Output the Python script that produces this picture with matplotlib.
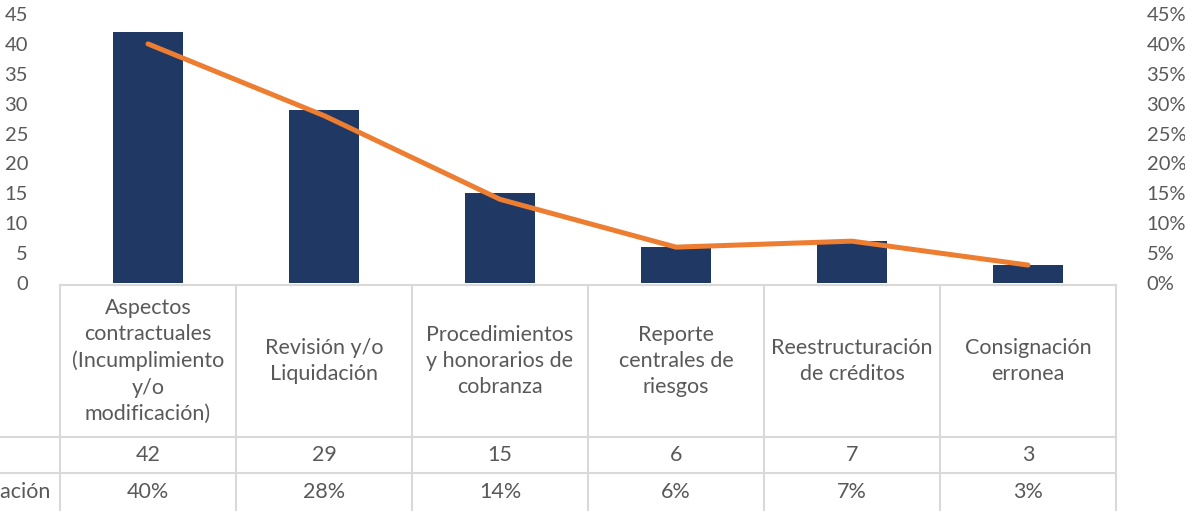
import matplotlib.pyplot as plt
from matplotlib.lines import Line2D
from matplotlib.ticker import PercentFormatter

categories = ["Aspectos\ncontractuales\n(Incumplimiento\ny/o\nmodificación)",
              "Revisión y/o\nLiquidación",
              "Procedimientos\ny honorarios de\ncobranza",
              "Reporte\ncentrales de\nriesgos",
              "Reestructuración\nde créditos",
              "Consignación\nerronea"]
cantidad = [42, 29, 15, 6, 7, 3]
participacion = [0.40, 0.28, 0.14, 0.06, 0.07, 0.03]
row_labels = ["", "Participación"]

plt.rcParams['font.family'] = ['Lato', 'DejaVu Sans']
txt = "#595959"
grid = "#d9d9d9"
W, H = 1185, 511
fs_tick = 14.5
fs_tab = 15.5

fig = plt.figure(figsize=(11.85, 5.11), dpi=100)
fx = lambda px: px / W
fy = lambda py: 1 - py / H

left, right, top, bottom = 60, 1116, 14, 283
ax = fig.add_axes([fx(left), fy(bottom), fx(right) - fx(left), fy(top) - fy(bottom)])
x = range(len(cantidad))
ax.bar(x, cantidad, width=0.4, color="#1f3864", zorder=2)
ax.set_xlim(-0.5, len(cantidad) - 0.5)
ax.set_ylim(0, 45)
ax.set_yticks(range(0, 46, 5))
ax.set_xticks([])
for s in ax.spines.values():
    s.set_visible(False)
ax.tick_params(axis="y", length=0, labelsize=fs_tick, labelcolor=txt, pad=23)

ax2 = ax.twinx()
ax2.plot(x, participacion, color="#ed7d31", linewidth=3.6, solid_capstyle="round", zorder=3)
ax2.set_ylim(0, 0.45)
ax2.set_yticks([i / 100 for i in range(0, 46, 5)])
ax2.yaxis.set_major_formatter(PercentFormatter(1.0, decimals=0))
for s in ax2.spines.values():
    s.set_visible(False)
ax2.tick_params(axis="y", length=0, labelsize=fs_tick, labelcolor=txt, pad=22)

# data table
col_w = (right - left) / len(categories)
r0, r1, r2, r3 = 285, 437, 473, 511
def hline(y, x0, x1):
    fig.add_artist(Line2D([fx(x0), fx(x1)], [fy(y), fy(y)], color=grid, lw=1.5))
def vline(xp, y0, y1):
    fig.add_artist(Line2D([fx(xp), fx(xp)], [fy(y0), fy(y1)], color=grid, lw=1.5))

hline(r0, left, right)
hline(r1, 0, right)
hline(r2, 0, right)
for i in range(len(categories) + 1):
    vline(left + i * col_w, r0, r3)

for i, cat in enumerate(categories):
    cx = fx(left + (i + 0.5) * col_w)
    fig.text(cx, fy((r0 + r1) / 2), cat, ha="center", va="center", fontsize=fs_tab,
             color=txt, linespacing=1.4)
    fig.text(cx, fy((r1 + r2) / 2), str(cantidad[i]), ha="center", va="center",
             fontsize=fs_tab, color=txt)
    fig.text(cx, fy((r2 + r3) / 2), f"{participacion[i]:.0%}", ha="center", va="center",
             fontsize=fs_tab, color=txt)

fig.text(fx(50), fy((r1 + r2) / 2), row_labels[0], ha="right", va="center", fontsize=fs_tab, color=txt)
fig.text(fx(50), fy((r2 + r3) / 2), row_labels[1], ha="right", va="center", fontsize=fs_tab, color=txt)

fig.savefig("out.png", dpi=100)
